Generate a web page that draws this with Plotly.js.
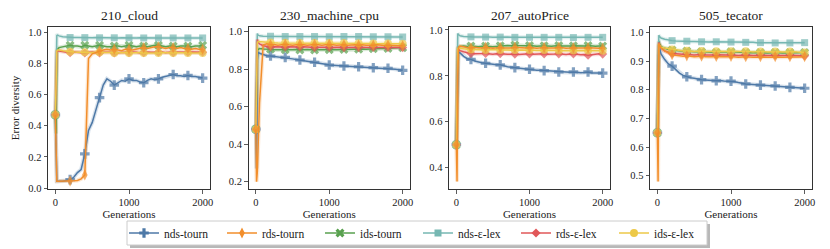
<!DOCTYPE html>
<html><head><meta charset="utf-8">
<script src="https://cdn.plot.ly/plotly-3.0.1.min.js"></script>
<style>html,body{margin:0;padding:0;background:#fff}#chart{width:830px;height:249px}</style>
</head><body><div id="chart"></div>
<script>
// ---------------- data ----------------
const generations = [0,10,20,30,50,100,150,200,250,300,350,400,450,500,550,600,650,700,750,800,850,900,950,1000,1050,1100,1150,1200,1250,1300,1350,1400,1450,1500,1550,1600,1650,1700,1750,1800,1850,1900,1950,2000];
const seriesNames = ["nds-tourn","rds-tourn","ids-tourn","nds-ε-lex","rds-ε-lex","ids-ε-lex"];
const panelTitles = ["210_cloud","230_machine_cpu","207_autoPrice","505_tecator"];
const xTicks = [0,1000,2000];

// 210_cloud
const cloudNdsTourn = [0.47,0.10,0.045,0.045,0.045,0.045,0.05,0.055,0.07,0.10,0.12,0.22,0.37,0.42,0.50,0.58,0.66,0.70,0.685,0.66,0.675,0.69,0.685,0.70,0.69,0.69,0.68,0.675,0.69,0.70,0.695,0.70,0.71,0.715,0.72,0.728,0.72,0.72,0.715,0.722,0.715,0.715,0.71,0.705];
const cloudRdsTourn = [0.47,0.045,0.045,0.045,0.045,0.045,0.047,0.047,0.048,0.05,0.06,0.085,0.83,0.86,0.87,0.88,0.885,0.89,0.885,0.89,0.885,0.88,0.89,0.89,0.885,0.89,0.895,0.90,0.895,0.90,0.905,0.905,0.90,0.895,0.90,0.90,0.895,0.90,0.895,0.895,0.89,0.895,0.89,0.89];
const cloudIdsTourn = [0.47,0.35,0.86,0.89,0.90,0.905,0.91,0.915,0.91,0.91,0.905,0.915,0.91,0.905,0.91,0.915,0.91,0.905,0.905,0.91,0.91,0.905,0.91,0.915,0.91,0.905,0.91,0.91,0.905,0.91,0.915,0.915,0.91,0.905,0.91,0.91,0.905,0.91,0.91,0.91,0.905,0.91,0.91,0.915];
const cloudNdsLex = [0.47,0.92,0.978,0.98,0.975,0.97,0.967,0.965,0.964,0.964,0.963,0.964,0.963,0.963,0.964,0.963,0.963,0.962,0.963,0.963,0.962,0.963,0.962,0.963,0.962,0.962,0.963,0.962,0.962,0.961,0.962,0.962,0.962,0.961,0.962,0.962,0.961,0.962,0.962,0.962,0.961,0.962,0.962,0.962];
const cloudRdsLex = [0.47,0.86,0.875,0.88,0.878,0.875,0.87,0.868,0.872,0.87,0.868,0.866,0.87,0.872,0.868,0.866,0.87,0.872,0.87,0.866,0.868,0.872,0.87,0.868,0.872,0.87,0.866,0.868,0.872,0.87,0.868,0.87,0.872,0.868,0.87,0.868,0.872,0.87,0.868,0.87,0.872,0.87,0.868,0.87];
const cloudIdsLex = [0.47,0.85,0.878,0.885,0.885,0.88,0.876,0.874,0.872,0.87,0.872,0.87,0.868,0.87,0.872,0.87,0.868,0.87,0.868,0.866,0.868,0.87,0.868,0.866,0.868,0.87,0.868,0.866,0.865,0.868,0.866,0.865,0.868,0.866,0.865,0.866,0.868,0.866,0.865,0.866,0.865,0.866,0.865,0.865];

// 230_machine_cpu
const cpuNdsTourn = [0.48,0.27,0.85,0.89,0.885,0.878,0.872,0.87,0.868,0.865,0.864,0.863,0.858,0.855,0.852,0.849,0.845,0.842,0.84,0.837,0.835,0.83,0.826,0.822,0.82,0.82,0.818,0.817,0.816,0.815,0.814,0.813,0.812,0.81,0.809,0.808,0.807,0.806,0.805,0.805,0.802,0.80,0.797,0.794];
const cpuRdsTourn = [0.48,0.20,0.25,0.38,0.62,0.93,0.935,0.93,0.932,0.928,0.93,0.933,0.93,0.928,0.93,0.932,0.93,0.928,0.93,0.932,0.93,0.928,0.93,0.932,0.93,0.928,0.93,0.93,0.928,0.93,0.93,0.928,0.93,0.928,0.926,0.928,0.93,0.928,0.926,0.928,0.926,0.926,0.925,0.925];
const cpuIdsTourn = [0.48,0.70,0.90,0.905,0.91,0.908,0.905,0.906,0.904,0.903,0.905,0.904,0.902,0.903,0.905,0.903,0.904,0.905,0.903,0.902,0.904,0.905,0.903,0.904,0.905,0.903,0.904,0.905,0.906,0.905,0.904,0.906,0.907,0.906,0.908,0.909,0.908,0.91,0.91,0.911,0.912,0.913,0.914,0.915];
const cpuNdsLex = [0.48,0.95,0.99,0.982,0.978,0.976,0.975,0.975,0.974,0.974,0.975,0.974,0.974,0.974,0.975,0.974,0.974,0.973,0.974,0.974,0.973,0.974,0.974,0.973,0.974,0.973,0.973,0.974,0.973,0.973,0.973,0.974,0.973,0.973,0.972,0.973,0.973,0.972,0.973,0.973,0.972,0.973,0.972,0.972];
const cpuRdsLex = [0.48,0.90,0.958,0.945,0.935,0.925,0.92,0.918,0.92,0.918,0.917,0.918,0.92,0.918,0.916,0.918,0.92,0.918,0.917,0.915,0.917,0.918,0.917,0.916,0.917,0.918,0.917,0.915,0.916,0.917,0.916,0.915,0.917,0.916,0.915,0.916,0.917,0.916,0.915,0.916,0.915,0.916,0.915,0.915];
const cpuIdsLex = [0.48,0.90,0.94,0.948,0.947,0.945,0.943,0.942,0.941,0.94,0.94,0.941,0.94,0.939,0.94,0.94,0.939,0.938,0.939,0.94,0.939,0.938,0.939,0.94,0.939,0.938,0.938,0.939,0.938,0.937,0.938,0.938,0.937,0.937,0.938,0.937,0.936,0.937,0.936,0.937,0.936,0.936,0.935,0.935];

// 207_autoPrice
const autoNdsTourn = [0.50,0.70,0.905,0.905,0.90,0.885,0.875,0.872,0.865,0.86,0.857,0.855,0.852,0.85,0.849,0.848,0.843,0.84,0.838,0.836,0.833,0.83,0.83,0.829,0.827,0.825,0.824,0.823,0.82,0.818,0.817,0.817,0.816,0.815,0.816,0.817,0.815,0.814,0.815,0.817,0.813,0.812,0.812,0.812];
const autoRdsTourn = [0.50,0.34,0.80,0.925,0.93,0.926,0.924,0.922,0.925,0.923,0.921,0.925,0.923,0.92,0.922,0.924,0.921,0.92,0.922,0.925,0.923,0.921,0.922,0.924,0.922,0.92,0.922,0.924,0.921,0.92,0.922,0.925,0.922,0.92,0.921,0.923,0.921,0.92,0.921,0.923,0.921,0.92,0.92,0.921];
const autoIdsTourn = [0.50,0.80,0.92,0.925,0.928,0.93,0.928,0.93,0.928,0.927,0.929,0.93,0.928,0.927,0.929,0.931,0.93,0.932,0.931,0.934,0.932,0.93,0.931,0.932,0.93,0.929,0.93,0.931,0.93,0.929,0.931,0.932,0.93,0.929,0.93,0.931,0.93,0.929,0.93,0.932,0.93,0.929,0.93,0.93];
const autoNdsLex = [0.50,0.95,0.985,0.98,0.975,0.972,0.97,0.97,0.969,0.969,0.97,0.969,0.969,0.968,0.969,0.969,0.968,0.969,0.968,0.968,0.969,0.968,0.968,0.968,0.969,0.968,0.968,0.968,0.967,0.968,0.968,0.968,0.967,0.968,0.968,0.967,0.968,0.968,0.967,0.968,0.967,0.968,0.968,0.968];
const autoRdsLex = [0.50,0.85,0.91,0.915,0.91,0.905,0.90,0.898,0.896,0.895,0.897,0.898,0.895,0.894,0.896,0.897,0.895,0.894,0.896,0.895,0.893,0.895,0.897,0.896,0.894,0.895,0.897,0.896,0.894,0.893,0.895,0.896,0.894,0.893,0.895,0.896,0.894,0.892,0.893,0.89,0.893,0.895,0.896,0.895];
const autoIdsLex = [0.50,0.88,0.92,0.922,0.92,0.918,0.916,0.915,0.914,0.915,0.914,0.913,0.914,0.915,0.914,0.913,0.914,0.913,0.912,0.913,0.914,0.913,0.912,0.913,0.912,0.911,0.912,0.913,0.912,0.911,0.912,0.911,0.91,0.911,0.912,0.911,0.91,0.911,0.91,0.911,0.91,0.91,0.911,0.91];

// 505_tecator
const tecNdsTourn = [0.65,0.85,0.955,0.945,0.925,0.905,0.89,0.882,0.87,0.858,0.85,0.845,0.842,0.84,0.837,0.835,0.834,0.834,0.832,0.831,0.832,0.83,0.829,0.83,0.828,0.825,0.822,0.82,0.819,0.818,0.817,0.816,0.815,0.814,0.814,0.813,0.812,0.81,0.81,0.808,0.807,0.806,0.805,0.805];
const tecRdsTourn = [0.65,0.48,0.96,0.955,0.945,0.935,0.928,0.922,0.92,0.918,0.917,0.918,0.916,0.915,0.916,0.917,0.915,0.914,0.915,0.916,0.915,0.914,0.915,0.916,0.914,0.913,0.914,0.915,0.914,0.913,0.914,0.915,0.914,0.913,0.914,0.915,0.914,0.913,0.914,0.915,0.914,0.914,0.915,0.915];
const tecIdsTourn = [0.65,0.90,0.97,0.96,0.95,0.945,0.94,0.938,0.936,0.935,0.934,0.935,0.933,0.932,0.933,0.932,0.931,0.932,0.931,0.93,0.931,0.93,0.931,0.932,0.931,0.93,0.929,0.93,0.929,0.93,0.929,0.93,0.929,0.928,0.929,0.93,0.929,0.928,0.929,0.93,0.929,0.929,0.93,0.93];
const tecNdsLex = [0.65,0.95,0.99,0.985,0.98,0.976,0.973,0.971,0.97,0.969,0.969,0.969,0.968,0.968,0.967,0.967,0.967,0.966,0.967,0.967,0.966,0.966,0.966,0.966,0.965,0.966,0.965,0.965,0.965,0.965,0.964,0.964,0.964,0.964,0.963,0.963,0.963,0.963,0.963,0.963,0.963,0.963,0.964,0.964];
const tecRdsLex = [0.65,0.90,0.965,0.955,0.945,0.935,0.93,0.926,0.925,0.924,0.923,0.924,0.922,0.921,0.922,0.923,0.921,0.92,0.921,0.922,0.921,0.92,0.921,0.922,0.92,0.919,0.92,0.921,0.92,0.919,0.92,0.921,0.92,0.919,0.92,0.92,0.919,0.918,0.919,0.92,0.919,0.918,0.918,0.918];
const tecIdsLex = [0.65,0.90,0.96,0.955,0.948,0.945,0.943,0.94,0.938,0.936,0.935,0.936,0.934,0.933,0.934,0.935,0.933,0.932,0.933,0.934,0.933,0.932,0.933,0.934,0.933,0.932,0.933,0.934,0.932,0.931,0.932,0.933,0.932,0.931,0.932,0.933,0.932,0.931,0.932,0.933,0.932,0.931,0.931,0.93];

const panels = [
  [cloudNdsTourn, cloudRdsTourn, cloudIdsTourn, cloudNdsLex, cloudRdsLex, cloudIdsLex],
  [cpuNdsTourn, cpuRdsTourn, cpuIdsTourn, cpuNdsLex, cpuRdsLex, cpuIdsLex],
  [autoNdsTourn, autoRdsTourn, autoIdsTourn, autoNdsLex, autoRdsLex, autoIdsLex],
  [tecNdsTourn, tecRdsTourn, tecIdsTourn, tecNdsLex, tecRdsLex, tecIdsLex]
];

// ---------------- style ----------------
const colors = ["#4e79a7","#f28e2b","#59a14f","#76b7b2","#e15759","#edc948"];
const symbols = ["cross","diamond-tall","x","square","diamond","circle"];
const msizes = [8,8,8,7,7,8];
const drawOrder = [0,2,3,4,5,1];
const FONT = "Liberation Serif, Times New Roman, serif";
const W = 830, H = 249;
const boxesX = [[48,210],[248.5,410],[449,610],[650,812]];
const boxY = [27,189];
const yRanges = [[-0.005,1.032],[0.161,1.025],[0.307,1.013],[0.454,1.0185]];
const yDticks = [0.2,0.2,0.2,0.1];

const traces = [];
const markerSizeFor = (k) => generations.map(g => (g % 200 === 0 ? msizes[k] : 0));
panels.forEach((series, p) => {
  const ax = p === 0 ? "" : String(p + 1);
  drawOrder.forEach((k) => {
    const vals = series[k];
    traces.push({x: generations, y: vals, xaxis: "x"+ax, yaxis: "y"+ax, mode: "lines",
      line: {color: colors[k], width: 4}, opacity: 0.22, showlegend: false, hoverinfo: "skip"});
  });
  drawOrder.forEach((k) => {
    const vals = series[k];
    traces.push({x: generations, y: vals, xaxis: "x"+ax, yaxis: "y"+ax, mode: "lines+markers",
      line: {color: colors[k], width: 1.5},
      marker: {symbol: symbols[k], color: colors[k], size: markerSizeFor(k), line: {width: 0}},
      name: seriesNames[k], showlegend: false});
  });
});
// legend entries
seriesNames.forEach((n, k) => {
  traces.push({x: [null], y: [null], mode: "lines+markers", name: n,
    line: {color: colors[k], width: 1.5},
    marker: {symbol: symbols[k], color: colors[k], size: msizes[k], line: {width: 0}},
    showlegend: true});
});

const layout = {
  width: W, height: H, margin: {l:0, r:0, t:0, b:0},
  paper_bgcolor: "#fff", plot_bgcolor: "#fff",
  font: {family: FONT, size: 10, color: "#222"},
  showlegend: true,
  legend: {orientation: "h", x: 124/W, xanchor: "left", y: 1 - 218.5/H, yanchor: "top",
    borderwidth: 0, bgcolor: "rgba(0,0,0,0)",
    font: {family: FONT, size: 11.5, color: "#222"}, entrywidth: 53, itemwidth: 30, tracegroupgap: 0},
  annotations: [], shapes: []
};
panelTitles.forEach((t, p) => {
  const ax = p === 0 ? "" : String(p + 1);
  const xd = [boxesX[p][0]/W, boxesX[p][1]/W];
  const yd = [1 - boxY[1]/H, 1 - boxY[0]/H];
  const axisCommon = {showline: true, mirror: true, linecolor: "#333", linewidth: 1,
    ticks: "outside", ticklen: 3.5, tickwidth: 0.8, tickcolor: "#333",
    showgrid: false, zeroline: false, tickfont: {family: FONT, size: 10.5, color: "#222"}};
  layout["xaxis"+ax] = Object.assign({}, axisCommon, {domain: xd, anchor: "y"+ax,
    range: [-100, 2100], tickvals: xTicks, ticktext: xTicks.map(String),
    title: {text: "Generations", font: {family: FONT, size: 11, color: "#222"}, standoff: 3}});
  layout["yaxis"+ax] = Object.assign({}, axisCommon, {domain: yd, anchor: "x"+ax,
    range: yRanges[p], dtick: yDticks[p], tick0: 0, tickformat: ".1f"});
  if (p === 0) layout.yaxis.title = {text: "Error diversity", font: {family: FONT, size: 11, color: "#222"}, standoff: 6};
  layout.annotations.push({text: t, xref: "paper", yref: "paper", x: (xd[0]+xd[1])/2, y: yd[1],
    xanchor: "center", yanchor: "bottom", yshift: 2, showarrow: false,
    font: {family: FONT, size: 13.5, color: "#222"}});
});
// legend frame + shadow
layout.shapes.push({type: "rect", xref: "paper", yref: "paper", layer: "below",
  x0: 130/W, x1: 710/W, y0: 1 - 248/H, y1: 1 - 224/H,
  fillcolor: "rgba(0,0,0,0.28)", line: {width: 0}});
layout.shapes.push({type: "rect", xref: "paper", yref: "paper", layer: "below",
  x0: 127/W, x1: 707/W, y0: 1 - 245/H, y1: 1 - 221/H,
  fillcolor: "#fff", line: {color: "#cccccc", width: 1}});

Plotly.newPlot("chart", traces, layout, {staticPlot: true, displayModeBar: false});
</script></body></html>
